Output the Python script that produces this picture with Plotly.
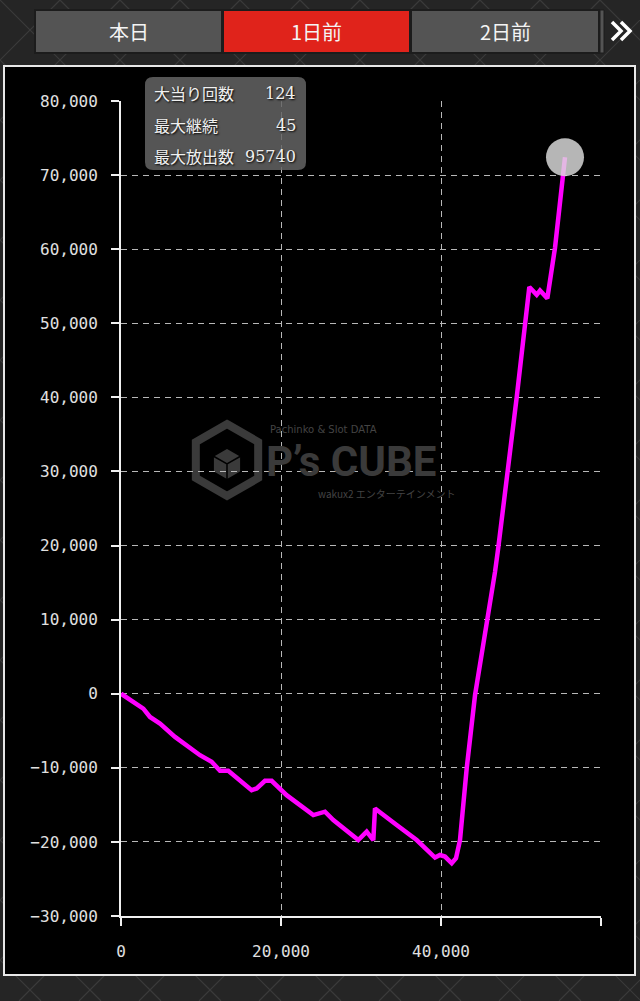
import math
import plotly.graph_objects as go

# ---------------- data ----------------
x_vals = [0, 1500, 2790, 3625, 4875, 6750, 8300, 9875, 11330, 12375, 13410,
          16330, 16960, 18000, 18830, 20700, 22375, 24040, 25500, 26540,
          29660, 30710, 31540, 31750, 34460, 36960, 39250, 39875, 40500,
          41340, 41875, 42375, 43210, 44250, 46750, 47170, 49460, 50500,
          51040, 51960, 52375, 53290, 54250, 55500]
y_vals = [0, -1000, -2020, -3140, -4040, -5830, -7100, -8300, -9190, -10400, -10400,
          -13020, -12790, -11750, -11750, -13690, -15030, -16380, -15920, -17050,
          -19750, -18620, -19750, -15480, -17730, -19750, -22120, -21770, -21980,
          -22880, -22210, -19750, -10100, -230, 16430, 19800, 39990, 50080,
          54900, 53840, 54420, 53360, 60180, 72400]

x_tickvals = [0, 20000, 40000, 60000]
x_ticktext = ["0", "20,000", "40,000", ""]

tab_labels = ["本日", "1日前", "2日前"]
info_labels = ["大当り回数", "最大継続", "最大放出数"]
info_values = ["124", "45", "95740"]

# ---------------- geometry helpers (pixels -> paper) ----------------
W, H = 640, 1001
L, R, T, B = 121, 601, 101, 916


def PX(p):
    return (p - L) / (R - L)


def PY(p):
    return (B - p) / (B - T)


shapes = []
annotations = []

# background diamond pattern
pat_col = "#3b3b3b"
for k in range(-20, 30):
    x0 = k * 60
    shapes.append(dict(type="line", xref="paper", yref="paper", layer="below",
                       x0=PX(x0), y0=PY(0), x1=PX(x0 + 1001), y1=PY(1001),
                       line=dict(color=pat_col, width=1.2)))
    shapes.append(dict(type="line", xref="paper", yref="paper", layer="below",
                       x0=PX(x0), y0=PY(0), x1=PX(x0 - 1001), y1=PY(1001),
                       line=dict(color=pat_col, width=1.2)))

# chart frame
shapes.append(dict(type="rect", xref="paper", yref="paper", layer="below",
                   x0=PX(4), y0=PY(66), x1=PX(635), y1=PY(975),
                   fillcolor="#000000", line=dict(color="#e8e8e8", width=2)))

# tabs
tab_x = [(35, 222), (223, 410), (411, 599)]
tab_fill = ["#545454", "#e0231b", "#545454"]
for (a, b), col, lab in zip(tab_x, tab_fill, tab_labels):
    shapes.append(dict(type="rect", xref="paper", yref="paper", layer="above",
                       x0=PX(a), y0=PY(10), x1=PX(b), y1=PY(53),
                       fillcolor=col, line=dict(color="#1c1c1c", width=2)))
    annotations.append(dict(xref="paper", yref="paper", x=PX((a + b) / 2), y=PY(31),
                            text=lab, showarrow=False, xanchor="center", yanchor="middle",
                            font=dict(family="Noto Sans CJK JP", size=20, color="#f4f4f4")))
shapes.append(dict(type="rect", xref="paper", yref="paper", layer="above",
                   x0=PX(600), y0=PY(10), x1=PX(604), y1=PY(53),
                   fillcolor="#545454", line=dict(color="#1c1c1c", width=1)))
for dx in (0, 9):
    shapes.append(dict(type="path", xref="paper", yref="paper", layer="above",
                       path=f"M {PX(612+dx)} {PY(22)} L {PX(621+dx)} {PY(31)} L {PX(612+dx)} {PY(40)}",
                       line=dict(color="#ffffff", width=3.5)))

# watermark (logo)
wm = "#3a3a3a"
cx, cy, r = 227, 460, 36
hexpts = [(cx + r * math.sin(math.radians(a)), cy - r * math.cos(math.radians(a)))
          for a in range(0, 360, 60)]
path = "M " + " L ".join(f"{PX(p[0])} {PY(p[1])}" for p in hexpts) + " Z"
shapes.append(dict(type="path", xref="paper", yref="paper", layer="below",
                   path=path, line=dict(color=wm, width=8)))
r2 = 16
cube = [(cx + r2 * math.sin(math.radians(a)), cy + 4 - r2 * math.cos(math.radians(a)))
        for a in range(0, 360, 60)]
path2 = "M " + " L ".join(f"{PX(p[0])} {PY(p[1])}" for p in cube) + " Z"
shapes.append(dict(type="path", xref="paper", yref="paper", layer="below",
                   path=path2, fillcolor=wm, line=dict(color="#000000", width=1.5)))
shapes.append(dict(type="path", xref="paper", yref="paper", layer="below",
                   path=f"M {PX(cube[5][0])} {PY(cube[5][1])} L {PX(cx)} {PY(cy+4)} L {PX(cube[1][0])} {PY(cube[1][1])} M {PX(cx)} {PY(cy+4)} L {PX(cx)} {PY(cy+4+r2)}",
                   line=dict(color="#000000", width=1.5)))
annotations.append(dict(xref="paper", yref="paper", x=PX(268), y=PY(429),
                        text="Pachinko &amp; Slot DATA", showarrow=False,
                        xanchor="left", yanchor="middle",
                        font=dict(family="DejaVu Sans", size=10, color="#444444")))
annotations.append(dict(xref="paper", yref="paper", x=PX(264), y=PY(461),
                        text="<b>P’s CUBE</b>", showarrow=False,
                        xanchor="left", yanchor="middle",
                        font=dict(family="Roboto", size=42, color=wm)))
annotations.append(dict(xref="paper", yref="paper", x=PX(316), y=PY(493),
                        text="wakux2 エンターテインメント", showarrow=False,
                        xanchor="left", yanchor="middle",
                        font=dict(family="Noto Sans CJK JP", size=10, color="#444444")))

# info box (rounded)
bx0, by0, bx1, by1, rr = 145, 77, 306, 170, 8
box_path = (f"M {PX(bx0+rr)} {PY(by0)} L {PX(bx1-rr)} {PY(by0)} "
            f"Q {PX(bx1)} {PY(by0)} {PX(bx1)} {PY(by0+rr)} "
            f"L {PX(bx1)} {PY(by1-rr)} Q {PX(bx1)} {PY(by1)} {PX(bx1-rr)} {PY(by1)} "
            f"L {PX(bx0+rr)} {PY(by1)} Q {PX(bx0)} {PY(by1)} {PX(bx0)} {PY(by1-rr)} "
            f"L {PX(bx0)} {PY(by0+rr)} Q {PX(bx0)} {PY(by0)} {PX(bx0+rr)} {PY(by0)} Z")
shapes.append(dict(type="path", xref="paper", yref="paper", layer="above",
                   path=box_path, fillcolor="rgba(100,100,100,0.85)", line=dict(width=0)))
row_y = [93, 125, 156]
for lab, val, yy in zip(info_labels, info_values, row_y):
    annotations.append(dict(xref="paper", yref="paper", x=PX(152), y=PY(yy),
                            text=lab, showarrow=False, xanchor="left", yanchor="middle",
                            font=dict(family="Noto Sans CJK JP", size=16, color="#f0f0f0",
                                      shadow="1px 1px 2px #000")))
    annotations.append(dict(xref="paper", yref="paper", x=PX(298), y=PY(yy),
                            text=val, showarrow=False, xanchor="right", yanchor="middle",
                            font=dict(family="DejaVu Serif", size=16, color="#f0f0f0",
                                      shadow="1px 1px 2px #000")))

# ---------------- figure ----------------
fig = go.Figure()
fig.add_trace(go.Scatter(x=x_vals, y=y_vals, mode="lines",
                         line=dict(color="#ff00ff", width=4.5), hoverinfo="skip"))
fig.add_trace(go.Scatter(x=[x_vals[-1]], y=[y_vals[-1]], mode="markers",
                         marker=dict(size=38, color="rgba(222,222,222,0.82)",
                                     line=dict(width=0)), hoverinfo="skip"))

grid = dict(showgrid=True, gridcolor="#b8b8b8", gridwidth=1, griddash="6px,5px",
            showline=True, linecolor="#f0f0f0", linewidth=2, ticks="outside",
            ticklen=8, tickwidth=2, tickcolor="#f0f0f0", zeroline=False,
            tickfont=dict(family="DejaVu Sans Mono", size=16, color="#e0e0e0"))

fig.update_layout(
    width=W, height=H,
    margin=dict(l=L, r=W - R, t=T, b=H - B),
    paper_bgcolor="#252525",
    plot_bgcolor="rgba(0,0,0,0)",
    showlegend=False,
    shapes=shapes,
    annotations=annotations,
    xaxis=dict(range=[0, 60000], tickvals=x_tickvals, ticktext=x_ticktext,
               ticklabelstandoff=12, **grid),
    yaxis=dict(range=[-30000, 80000], dtick=10000, tickformat=",",
               ticklabelstandoff=10, **grid),
)

fig.write_html("out.html", config={"displayModeBar": False},
               post_script="document.body.style.margin='0';document.body.style.overflow='hidden';")
